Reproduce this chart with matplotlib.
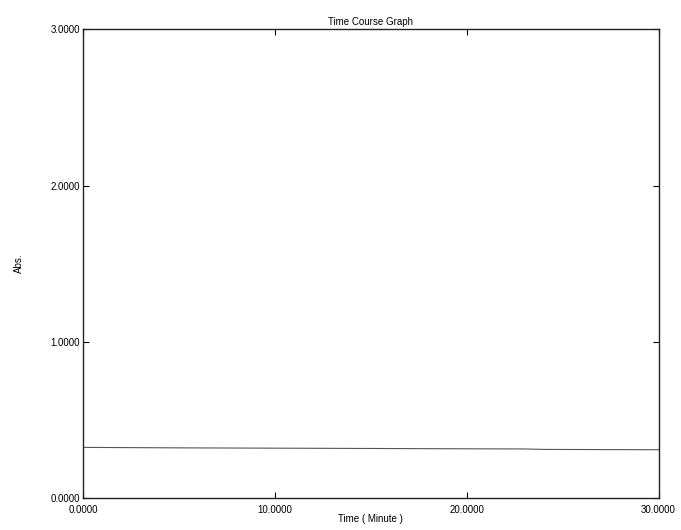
import matplotlib.pyplot as plt

plt.rcParams['font.family'] = ['Liberation Sans', 'DejaVu Sans']

# lectura aproximada de la curva
times = [0, 5, 10, 15, 20, 23, 24, 30]
absorb = [0.325, 0.322, 0.320, 0.318, 0.316, 0.315, 0.312, 0.310]

x_ticks = [0, 10, 20, 30]
y_ticks = [0, 1, 2, 3]

fig = plt.figure(figsize=(6.81, 5.30), dpi=100)
ax = fig.add_axes([0.122, 0.060, 0.845, 0.885])

ax.plot(times, absorb, color='#555555', linewidth=0.8)

ax.set_xlim(0, 30)
ax.set_ylim(0, 3)
ax.set_xticks(x_ticks)
ax.set_yticks(y_ticks)
ax.set_xticklabels(['%.4f' % v for v in x_ticks], fontsize=7)
ax.set_yticklabels(['%.4f' % v for v in y_ticks], fontsize=7)
ax.tick_params(direction='in', top=True, right=True, length=4, width=0.8)
ax.tick_params(axis='x', pad=5)
ax.tick_params(axis='y', pad=2)
for s in ax.spines.values():
    s.set_linewidth(1.0)
    s.set_color('#222222')

ax.set_title('Time Course Graph', fontsize=7, pad=3)
ax.set_xlabel('Time ( Minute )', fontsize=7, labelpad=-1)
ax.set_ylabel('Abs.', fontsize=7, labelpad=19)

fig.savefig('out.png', dpi=100)
